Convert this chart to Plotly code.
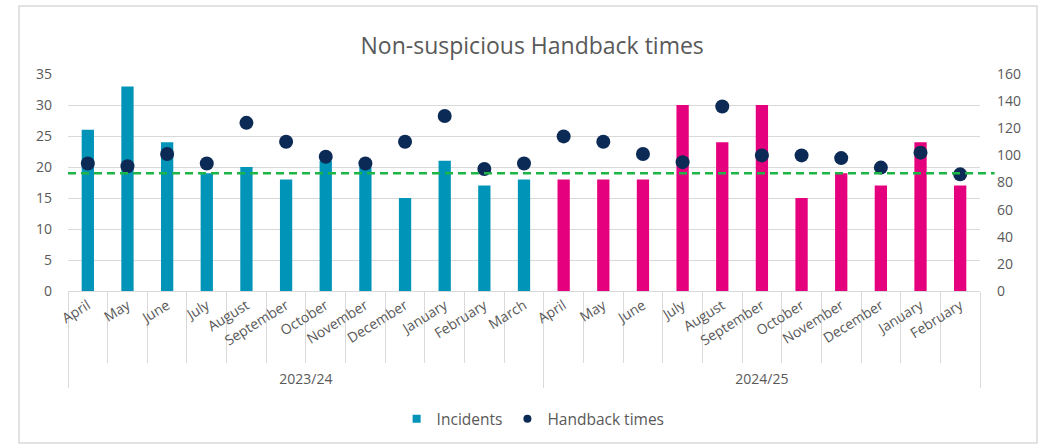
import plotly.graph_objects as go

years = ["2023/24"] * 12 + ["2024/25"] * 11
months = ["April", "May", "June", "July", "August", "September", "October",
          "November", "December", "January", "February", "March",
          "April", "May", "June", "July", "August", "September", "October",
          "November", "December", "January", "February"]
incidents = [26, 33, 24, 19, 20, 18, 21, 20, 15, 21, 17, 18,
             18, 18, 18, 30, 24, 30, 15, 19, 17, 24, 17]
handback = [94, 92, 101, 94, 124, 110, 99, 94, 110, 129, 90, 94,
            114, 110, 101, 95, 136, 100, 100, 98, 91, 102, 86]
target_line = 19

TEAL = "#0095B8"
PINK = "#E5007E"
NAVY = "#0B2A55"
GREEN = "#1DB545"
TXT = "#595959"
GRID = "#D9D9D9"
FONT = "Open Sans"

bar_colors = [TEAL if y == "2023/24" else PINK for y in years]

fig = go.Figure()
fig.add_trace(go.Bar(
    x=[years, months], y=incidents, name="Incidents",
    marker=dict(color=bar_colors, line=dict(width=0)),
    width=0.31, yaxis="y", showlegend=False,
))
fig.add_trace(go.Scatter(
    x=[years, months], y=handback, name="Handback times", mode="markers",
    marker=dict(color=NAVY, size=14, line=dict(width=0)),
    yaxis="y2", showlegend=False,
))
# legend-only entries with small swatches
fig.add_trace(go.Scatter(
    x=[[years[0]], [months[0]]], y=[None], name="Incidents", mode="markers",
    marker=dict(color=TEAL, size=8, symbol="square"), yaxis="y",
))
fig.add_trace(go.Scatter(
    x=[[years[0]], [months[0]]], y=[None], name="Handback times", mode="markers",
    marker=dict(color=NAVY, size=8, symbol="circle"), yaxis="y2",
))

fig.update_layout(
    width=1043, height=445,
    margin=dict(l=68, r=63, t=74, b=154, autoexpand=False),
    paper_bgcolor="white", plot_bgcolor="white",
    font=dict(family=FONT, color=TXT, size=13),
    title=dict(text="Non-suspicious Handback times", x=0.509, xref="paper",
               y=0.915, yref="container", xanchor="center",
               font=dict(size=23, color=TXT, family=FONT)),
    showlegend=True,
    legend=dict(orientation="h", x=0.51, xanchor="center",
                yref="container", y=0.058, yanchor="middle",
                font=dict(size=15.5, color=TXT),
                itemwidth=30, traceorder="normal"),
    bargap=0.6,
    xaxis=dict(
        type="multicategory", tickangle=-32, automargin=False,
        showgrid=False, showline=True, linecolor=GRID, linewidth=1,
        ticks="outside", ticklen=71, tickcolor=GRID, tickwidth=1,
        showdividers=True, dividercolor=GRID, dividerwidth=1,
        tickfont=dict(size=14, color=TXT),
        range=[-0.5, 22.5],
    ),
    yaxis=dict(
        range=[0, 35], dtick=5, showgrid=True, gridcolor=GRID, gridwidth=1,
        zeroline=False, showline=False, ticks="", ticklabelstandoff=15,
        tickfont=dict(size=14, color=TXT), automargin=False,
    ),
    yaxis2=dict(
        range=[0, 160], dtick=20, overlaying="y", side="right",
        showgrid=False, zeroline=False, showline=False, ticks="",
        ticklabelstandoff=16, tickfont=dict(size=14, color=TXT),
        automargin=False,
    ),
    shapes=[
        dict(type="line", xref="paper", x0=0, x1=1.016, yref="y",
             y0=target_line, y1=target_line,
             line=dict(color=GREEN, width=2.5, dash="8px,5px"), layer="above"),
        dict(type="rect", xref="paper", x0=-0.0537, x1=1.0625,
             yref="paper", y0=-0.70, y1=1.313,
             line=dict(color=GRID, width=1.5), layer="below"),
    ],
)

fig.write_html("out.html")
